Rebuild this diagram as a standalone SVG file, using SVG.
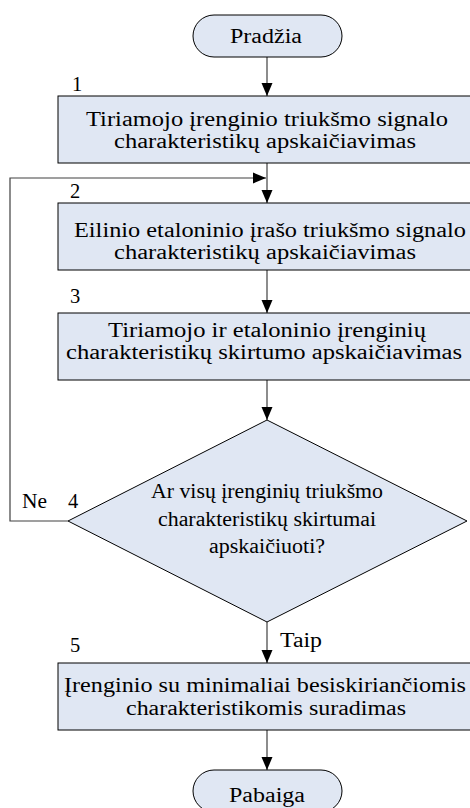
<svg xmlns="http://www.w3.org/2000/svg" width="470" height="808" viewBox="0 0 470 808">
<style>
.shape{fill:#e0e7f3;stroke:#000;stroke-width:1}
.t{font-family:"Liberation Serif","Times New Roman",serif;font-size:20.5px;fill:#000}
.c{text-anchor:middle}
.con{fill:none;stroke:#404040;stroke-width:1.2}
</style>
<defs>
<marker id="arr" markerUnits="userSpaceOnUse" markerWidth="14" markerHeight="12" refX="13" refY="6" orient="auto">
<path d="M0,0.5 L13,6 L0,11.5 z" fill="#000"/>
</marker>
</defs>
<rect width="470" height="808" fill="#fff"/>
<g id="connectors">
<line class="con" x1="267" y1="57" x2="267" y2="96" marker-end="url(#arr)"/>
<line class="con" x1="267" y1="163" x2="267" y2="203" marker-end="url(#arr)"/>
<polyline class="con" points="68,521 10,521 10,178 266,178" marker-end="url(#arr)"/>
<line class="con" x1="267" y1="270" x2="267" y2="313" marker-end="url(#arr)"/>
<line class="con" x1="267" y1="380" x2="267" y2="420" marker-end="url(#arr)"/>
<line class="con" x1="267" y1="622" x2="267" y2="663" marker-end="url(#arr)"/>
<line class="con" x1="267" y1="730" x2="267" y2="770" marker-end="url(#arr)"/>
<text class="t" x="22" y="508" textLength="25" lengthAdjust="spacingAndGlyphs">Ne</text>
<text class="t" x="280" y="647" textLength="42" lengthAdjust="spacingAndGlyphs">Taip</text>
</g>
<g id="start">
<rect class="shape" x="193" y="15" width="149" height="42" rx="21" ry="21"/>
<text class="t c" x="266" y="43" textLength="72" lengthAdjust="spacingAndGlyphs">Pradžia</text>
</g>
<g id="step1">
<text class="t" x="72" y="91">1</text>
<rect class="shape" x="58" y="96" width="420" height="67"/>
<text class="t c" x="267" y="126" textLength="362" lengthAdjust="spacingAndGlyphs">Tiriamojo įrenginio triukšmo signalo</text>
<text class="t c" x="265" y="148" textLength="302" lengthAdjust="spacingAndGlyphs">charakteristikų apskaičiavimas</text>
</g>
<g id="step2">
<text class="t" x="70" y="198">2</text>
<rect class="shape" x="58" y="203" width="420" height="67"/>
<text class="t c" x="270" y="237" textLength="392" lengthAdjust="spacingAndGlyphs">Eilinio etaloninio įrašo triukšmo signalo</text>
<text class="t c" x="265" y="259" textLength="302" lengthAdjust="spacingAndGlyphs">charakteristikų apskaičiavimas</text>
</g>
<g id="step3">
<text class="t" x="70" y="303">3</text>
<rect class="shape" x="58" y="313" width="420" height="67"/>
<text class="t c" x="267" y="337" textLength="318" lengthAdjust="spacingAndGlyphs">Tiriamojo ir etaloninio įrenginių</text>
<text class="t c" x="264" y="359" textLength="396" lengthAdjust="spacingAndGlyphs">charakteristikų skirtumo apskaičiavimas</text>
</g>
<g id="decision4">
<text class="t" x="68" y="508">4</text>
<polygon class="shape" points="267,420 467,521 267,622 68,521"/>
<text class="t c" x="267" y="498" textLength="232" lengthAdjust="spacingAndGlyphs">Ar visų įrenginių triukšmo</text>
<text class="t c" x="267" y="526" textLength="218" lengthAdjust="spacingAndGlyphs">charakteristikų skirtumai</text>
<text class="t c" x="267" y="553" textLength="116" lengthAdjust="spacingAndGlyphs">apskaičiuoti?</text>
</g>
<g id="step5">
<text class="t" x="70" y="652">5</text>
<rect class="shape" x="58" y="663" width="420" height="67"/>
<text class="t c" x="265" y="692" textLength="402" lengthAdjust="spacingAndGlyphs">Įrenginio su minimaliai besiskiriančiomis</text>
<text class="t c" x="266" y="715" textLength="280" lengthAdjust="spacingAndGlyphs">charakteristikomis suradimas</text>
</g>
<g id="end">
<rect class="shape" x="193" y="770" width="149" height="42" rx="21" ry="21"/>
<text class="t c" x="267" y="802" textLength="76" lengthAdjust="spacingAndGlyphs">Pabaiga</text>
</g>
</svg>
